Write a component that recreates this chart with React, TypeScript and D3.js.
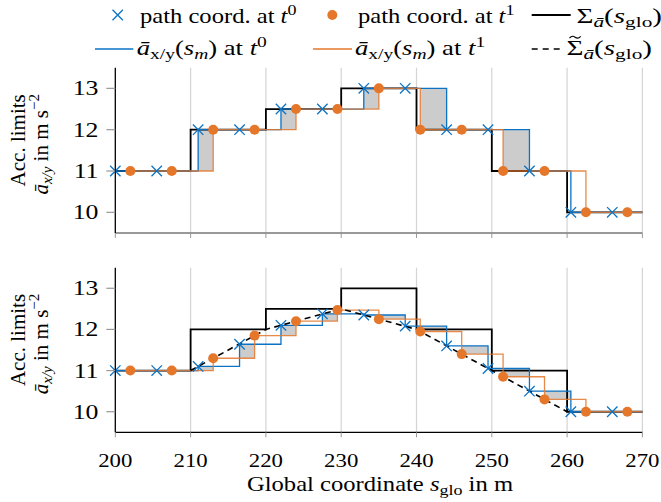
import React from "react";
import * as d3 from "d3";

// ---- data ----
const xTicks = [200, 210, 220, 230, 240, 250, 260, 270];
const yTicks = [10, 11, 12, 13];
const sigmaX = [200, 210, 220, 230, 240, 250, 260, 270];
const sigmaV = [11, 12, 12.5, 13, 12, 11, 10, 10];
const t0X = [200, 205.5, 211, 216.5, 222, 227.5, 233, 238.5, 244, 249.5, 255, 260.5, 266];
const t1X = [202, 207.5, 213, 218.5, 224, 229.5, 235, 240.5, 246, 251.5, 257, 262.5, 268];
const topT0V = [11, 11, 12, 12, 12.5, 12.5, 13, 13, 12, 12, 11, 10, 10];
const topT1V = [11, 11, 12, 12, 12.5, 12.5, 13, 12, 12, 11, 11, 10, 10];
const botT0V = [11, 11, 11.1, 11.64, 12.1, 12.38, 12.35, 12.08, 11.6, 11.05, 10.5, 10, 10];
const botT1V = [11, 11, 11.3, 11.85, 12.2, 12.47, 12.25, 11.95, 11.4, 10.85, 10.3, 10, 10];
const sigmaTildeX = [210, 220, 230, 240, 260];
const sigmaTildeV = [11, 12, 12.5, 12, 10];

// ---- style ----
const BLUE = "#0b72c4";
const ORANGE = "#e4772a";
const SERIF = "Liberation Serif, DejaVu Serif, Times New Roman, serif";
const SX = 1.2;
const MSX = 1.3;
const X_END = 270;
const LF = 20.5; // legend font
const LS = 15; // legend sub font

const x = d3.scaleLinear().domain([200, 270]).range([115.3, 642.4]);

type P = [number, number];
const stepLine = d3
  .line<P>()
  .x((d) => x(d[0]))
  .curve(d3.curveStepAfter);

function stepVal(xs: number[], vs: number[], at: number): number | null {
  let v: number | null = null;
  for (let i = 0; i < xs.length; i++) if (xs[i] <= at + 1e-9) v = vs[i];
  return v;
}

function SText({ x: tx, y: ty, anchor = "start", size = 20, children, sx = SX }: any) {
  return (
    <g transform={`translate(${tx},${ty}) scale(${sx},1)`}>
      <text textAnchor={anchor} fontSize={size} fontFamily={SERIF} fill="#000">
        {children}
      </text>
    </g>
  );
}

const I = (p: any) => <tspan fontStyle="italic" {...p} />;

function Cross({ cx, cy }: { cx: number; cy: number }) {
  const s = 5.2;
  return (
    <path
      d={`M${cx - s},${cy - s}L${cx + s},${cy + s}M${cx - s},${cy + s}L${cx + s},${cy - s}`}
      stroke={BLUE}
      strokeWidth={1.3}
      fill="none"
    />
  );
}

function Panel({ y0, y1, t0V, t1V, showTilde, bottomAxisColor }: any) {
  const y = d3.scaleLinear().domain([9.5, 13.5]).range([y1, y0]);
  const line = stepLine.y((d) => y(d[1]));
  const sigmaPts: P[] = sigmaX.map((v, i) => [v, sigmaV[i]]);
  const bluePts: P[] = t0X.map((v, i) => [v, t0V[i]] as P).concat([[X_END, t0V[t0V.length - 1]]]);
  const orPts: P[] = t1X.map((v, i) => [v, t1V[i]] as P).concat([[X_END, t1V[t1V.length - 1]]]);
  const bps = Array.from(new Set([...t0X, ...t1X, X_END])).sort((a, b) => a - b);
  const fills: any[] = [];
  for (let i = 0; i < bps.length - 1; i++) {
    const a = bps[i];
    const b = bps[i + 1];
    const bv = stepVal(t0X, t0V, a);
    const ov = stepVal(t1X, t1V, a);
    if (bv !== null && ov !== null && bv > ov + 1e-9) {
      fills.push(
        <rect key={i} x={x(a)} y={y(bv)} width={x(b) - x(a)} height={y(ov) - y(bv)} fill="#cccccc" />
      );
    }
  }
  const dashed = d3
    .line<P>()
    .x((d) => x(d[0]))
    .y((d) => y(d[1]));
  const tildePts: P[] = sigmaTildeX.map((v, i) => [v, sigmaTildeV[i]]);
  return (
    <g>
      {xTicks.slice(1).map((t) => (
        <line key={t} x1={x(t)} x2={x(t)} y1={y0} y2={y1} stroke="#d4d4d4" strokeWidth={1.2} />
      ))}
      {fills}
      <path d={line(sigmaPts) || ""} fill="none" stroke="#000" strokeWidth={1.8} />
      <path d={line(bluePts) || ""} fill="none" stroke={BLUE} strokeWidth={1.3} />
      <path d={line(orPts) || ""} fill="none" stroke={ORANGE} strokeWidth={1.3} strokeOpacity={0.85} />
      {showTilde && (
        <path
          d={dashed(tildePts) || ""}
          fill="none"
          stroke="#000"
          strokeWidth={1.6}
          strokeDasharray="6,4.5"
        />
      )}
      {t0X.map((v, i) => (
        <Cross key={i} cx={x(v)} cy={y(t0V[i])} />
      ))}
      {t1X.map((v, i) => (
        <circle key={i} cx={x(v)} cy={y(t1V[i])} r={5} fill={ORANGE} />
      ))}
      {/* axes */}
      <line x1={x(200)} x2={x(270)} y1={y1} y2={y1} stroke={bottomAxisColor} strokeWidth={1.3} />
      <line x1={x(200)} x2={x(200)} y1={y0} y2={y1} stroke="#000" strokeWidth={1.3} />
      {xTicks.map((t) => (
        <line key={t} x1={x(t)} x2={x(t)} y1={y1} y2={y1 + 5} stroke="#999" strokeWidth={1} />
      ))}
      {yTicks.map((t) => (
        <g key={t}>
          <line x1={x(200) - 9} x2={x(200)} y1={y(t)} y2={y(t)} stroke="#999" strokeWidth={1.2} />
          <SText x={98.5} y={y(t) + 7} anchor="end" size={21.5}>
            {t}
          </SText>
        </g>
      ))}
      {/* y label */}
      <g transform={`translate(25,${(y0 + y1) / 2 - 10}) rotate(-90)`}>
        <text textAnchor="middle" fontSize={21} fontFamily={SERIF}>
          Acc. limits
        </text>
      </g>
      <g transform={`translate(48,${(y0 + y1) / 2 - 6}) rotate(-90)`}>
        <text textAnchor="middle" fontSize={21} fontFamily={SERIF}>
          <I>ā</I>
          <I fontSize={15} dy={4}>x/y</I>
          <tspan dy={-4}> in m s</tspan>
          <tspan fontSize={15} dy={-9}>−2</tspan>
        </text>
      </g>
    </g>
  );
}

export default function App() {
  return (
    <svg width={661} height={502} style={{ position: "absolute", left: 0, top: 0 }}>
      <rect width={661} height={502} fill="#fff" />
      {/* legend */}
      <Cross cx={117.7} cy={15} />
      <SText x={140} y={22.5} size={LF}>
        path coord. at <I>t</I>
        <tspan fontSize={LS} dy={-8}>0</tspan>
      </SText>
      <circle cx={332.3} cy={15} r={5} fill={ORANGE} />
      <SText x={358} y={22.5} size={LF}>
        path coord. at <I>t</I>
        <tspan fontSize={LS} dy={-8}>1</tspan>
      </SText>
      <line x1={531.7} x2={570.7} y1={15} y2={15} stroke="#000" strokeWidth={1.8} />
      <SText x={576.5} y={22.5} size={LF} sx={1.42}>
        Σ<I fontSize={LS} dy={4}>ā</I>
        <tspan dy={-4}>(</tspan>
        <I>s</I>
        <tspan fontSize={LS} dy={4}>glo</tspan>
        <tspan dy={-4}>)</tspan>
      </SText>

      <line x1={95} x2={133.3} y1={49} y2={49} stroke={BLUE} strokeWidth={1.3} />
      <SText x={136.7} y={55} size={LF} sx={MSX}>
        <I>ā</I>
        <tspan fontSize={LS} dy={4}>x/y</tspan>
        <tspan dy={-4}>(</tspan>
        <I>s</I>
        <I fontSize={LS} dy={4}>m</I>
        <tspan dy={-4}>) at </tspan>
        <I>t</I>
        <tspan fontSize={LS} dy={-8}>0</tspan>
      </SText>
      <line x1={313} x2={352} y1={49} y2={49} stroke={ORANGE} strokeWidth={1.3} />
      <SText x={355} y={55} size={LF} sx={MSX}>
        <I>ā</I>
        <tspan fontSize={LS} dy={4}>x/y</tspan>
        <tspan dy={-4}>(</tspan>
        <I>s</I>
        <I fontSize={LS} dy={4}>m</I>
        <tspan dy={-4}>) at </tspan>
        <I>t</I>
        <tspan fontSize={LS} dy={-8}>1</tspan>
      </SText>
      <line x1={531.7} x2={560} y1={49} y2={49} stroke="#000" strokeWidth={1.6} strokeDasharray="6,5" />
      <SText x={566.5} y={55} size={LF} sx={1.42}>
        Σ<I fontSize={LS} dy={4}>ā</I>
        <tspan dy={-4}>(</tspan>
        <I>s</I>
        <tspan fontSize={LS} dy={4}>glo</tspan>
        <tspan dy={-4}>)</tspan>
      </SText>
      <path d="M569.5,38 q2.8,-3 5.6,-0.8 t5.6,-0.8" fill="none" stroke="#000" strokeWidth={1.1} />

      <Panel y0={67.7} y1={233} t0V={topT0V} t1V={topT1V} showTilde={false} bottomAxisColor="#777" />
      <Panel y0={267.7} y1={432.3} t0V={botT0V} t1V={botT1V} showTilde={true} bottomAxisColor="#000" />

      {xTicks.map((t) => (
        <SText key={t} x={x(t)} y={467} anchor="middle" size={19}>
          {t}
        </SText>
      ))}
      <SText x={380} y={490.5} anchor="middle" size={20.5}>
        Global coordinate <I>s</I>
        <tspan fontSize={LS} dy={4}>glo</tspan>
        <tspan dy={-4}> in m</tspan>
      </SText>
    </svg>
  );
}
